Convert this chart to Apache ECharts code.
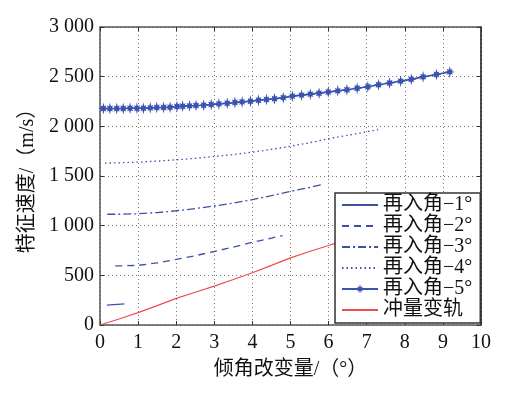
<!DOCTYPE html>
<html><head><meta charset="utf-8">
<script src="https://cdn.jsdelivr.net/npm/echarts@6/dist/echarts.min.js"></script>
<style>html,body{margin:0;padding:0;background:#fff}#c{width:508px;height:394px}</style>
</head><body><div id="c"></div>
<script>
const seriesNames = ['再入角−1°', '再入角−2°', '再入角−3°', '再入角−4°', '再入角−5°', '冲量变轨'];
const xTicks = [0, 1, 2, 3, 4, 5, 6, 7, 8, 9, 10];
const yTicks = [0, 500, 1000, 1500, 2000, 2500, 3000];

const x1 = [0.18, 0.64];
const y1 = [200, 212];

const x2 = [0.40, 0.7, 1.0, 1.5, 2.0, 2.5, 3.0, 3.5, 4.0, 4.5, 4.79];
const y2 = [595, 597, 600, 625, 660, 698, 740, 785, 833, 875, 900];

const x3 = [0.19, 0.5, 1.0, 1.5, 2.0, 2.5, 3.0, 3.5, 4.0, 4.5, 5.0, 5.5, 5.82];
const y3 = [1115, 1115, 1120, 1132, 1150, 1172, 1198, 1228, 1262, 1302, 1345, 1385, 1413];

const x4 = [0.13, 0.5, 1.0, 1.5, 2.0, 2.5, 3.0, 3.5, 4.0, 4.5, 5.0, 5.5, 6.0, 6.5, 7.0, 7.3];
const y4 = [1630, 1632, 1640, 1650, 1663, 1678, 1697, 1716, 1740, 1768, 1800, 1835, 1875, 1910, 1945, 1968];

const x5 = [0.09, 0.26, 0.44, 0.61, 0.79, 0.97, 1.14, 1.32, 1.49, 1.67, 1.84, 2.02, 2.17, 2.35,
  2.52, 2.72, 2.92, 3.12, 3.34, 3.54, 3.73, 3.95, 4.16, 4.37, 4.58, 4.81, 5.05, 5.29, 5.52,
  5.75, 5.99, 6.24, 6.48, 6.75, 7.03, 7.31, 7.60, 7.89, 8.17, 8.48, 8.83, 9.18];
const y5 = [2179, 2179, 2179, 2179, 2182, 2182, 2182, 2186, 2189, 2189, 2192, 2199, 2203, 2206,
  2209, 2213, 2219, 2226, 2233, 2239, 2246, 2253, 2263, 2270, 2278, 2289, 2304, 2314, 2324,
  2334, 2345, 2357, 2368, 2384, 2398, 2418, 2436, 2455, 2473, 2498, 2522, 2548];

const x6 = [0, 0.5, 1.0, 1.5, 2.0, 2.5, 3.0, 3.5, 4.0, 4.5, 5.0, 5.5, 6.0, 6.2];
const y6 = [0, 60, 124, 195, 268, 330, 392, 458, 526, 600, 676, 740, 800, 827];

function pairs(xs, ys) { return xs.map((x, i) => [x, ys[i]]); }

// asterisk-like marker shape (8 arms)
const armLen = [10, 7, 8.5, 7, 10, 7, 8.5, 7];
let starPath = 'path://';
for (let i = 0; i < 16; i++) {
  const r = i % 2 === 0 ? armLen[i / 2] : 4;
  const a = Math.PI / 2 + i * Math.PI / 8;
  starPath += (i === 0 ? 'M' : 'L') + (10 + r * Math.cos(a)).toFixed(2) + ' ' + (10 - r * Math.sin(a)).toFixed(2) + ' ';
}
starPath += 'Z';

const blue = '#3f50a8';
const starBlue = '#3a52b0';
const red = '#ef4b4b';
const serif = '"Liberation Serif", "Noto Sans CJK SC", serif';
const fmtY = v => String(v).replace(/\B(?=(\d{3})+(?!\d))/g, ' ');
const gridLine = { show: true, lineStyle: { color: '#777', type: [1, 3], width: 1 } };
const axLine = { show: true, onZero: false, lineStyle: { color: '#555', width: 1.5 } };
const tick = { show: true, inside: true, length: 4, lineStyle: { color: '#333' } };

const chart = echarts.init(document.getElementById('c'), null, { renderer: 'canvas' });
chart.setOption({
  animation: false,
  backgroundColor: '#fff',
  grid: { left: 100, right: 27, top: 27, bottom: 69, containLabel: false },
  xAxis: [{
    type: 'value', min: 0, max: 10, interval: 1,
    name: '倾角改变量/（°）', nameLocation: 'middle', nameGap: 35,
    nameTextStyle: { fontFamily: serif, fontSize: 20, color: '#111' },
    axisLine: axLine, axisTick: tick,
    axisLabel: { fontFamily: serif, fontSize: 20, color: '#111', margin: 8,
      formatter: v => xTicks.includes(v) ? String(v) : '' },
    splitLine: gridLine
  }, {
    type: 'value', min: 0, max: 10, interval: 1, position: 'top',
    axisLine: axLine, axisTick: tick,
    axisLabel: { show: false }, splitLine: { show: false }
  }],
  yAxis: [{
    type: 'value', min: 0, max: 3000, interval: 500,
    name: '特征速度/（m/s）', nameLocation: 'middle', nameGap: 57, nameRotate: 90,
    nameTextStyle: { fontFamily: serif, fontSize: 20, color: '#111' },
    axisLine: axLine, axisTick: tick,
    axisLabel: { fontFamily: serif, fontSize: 20, color: '#111', margin: 6,
      formatter: v => yTicks.includes(v) ? fmtY(v) : '' },
    splitLine: gridLine
  }, {
    type: 'value', min: 0, max: 3000, interval: 500, position: 'right',
    axisLine: { show: true, onZero: false, lineStyle: { color: '#111', width: 1.5 } },
    axisTick: tick,
    axisLabel: { show: false }, splitLine: { show: false }
  }],
  legend: {
    orient: 'vertical', left: 335, top: 193,
    backgroundColor: '#fff', borderColor: '#333', borderWidth: 1.5, borderRadius: 0,
    padding: [2, 8, 3, 6], itemGap: 1, itemWidth: 36, itemHeight: 12,
    textStyle: { fontFamily: serif, fontSize: 20, color: '#111' },
    data: seriesNames.map((n, i) => i === 4 ? { name: n } : { name: n, itemStyle: { opacity: 0 } })
  },
  series: [
    { name: seriesNames[0], type: 'line', data: pairs(x1, y1), symbol: 'none',
      lineStyle: { color: blue, width: 1.3 }, itemStyle: { color: blue } },
    { name: seriesNames[1], type: 'line', data: pairs(x2, y2), symbol: 'none',
      lineStyle: { color: blue, width: 1.3, type: [7, 5] }, itemStyle: { color: blue } },
    { name: seriesNames[2], type: 'line', data: pairs(x3, y3), symbol: 'none',
      lineStyle: { color: blue, width: 1.3, type: [8, 3, 2, 3] }, itemStyle: { color: blue } },
    { name: seriesNames[3], type: 'line', data: pairs(x4, y4), symbol: 'none',
      lineStyle: { color: blue, width: 1.3, type: [1.5, 3] }, itemStyle: { color: blue } },
    { name: seriesNames[4], type: 'line', data: pairs(x5, y5), symbol: starPath, symbolSize: [10, 12],
      showAllSymbol: true,
      lineStyle: { color: starBlue, width: 1.6 }, itemStyle: { color: starBlue } },
    { name: seriesNames[5], type: 'line', data: pairs(x6, y6), symbol: 'none',
      lineStyle: { color: red, width: 1.2 }, itemStyle: { color: red } }
  ]
});
</script></body></html>
